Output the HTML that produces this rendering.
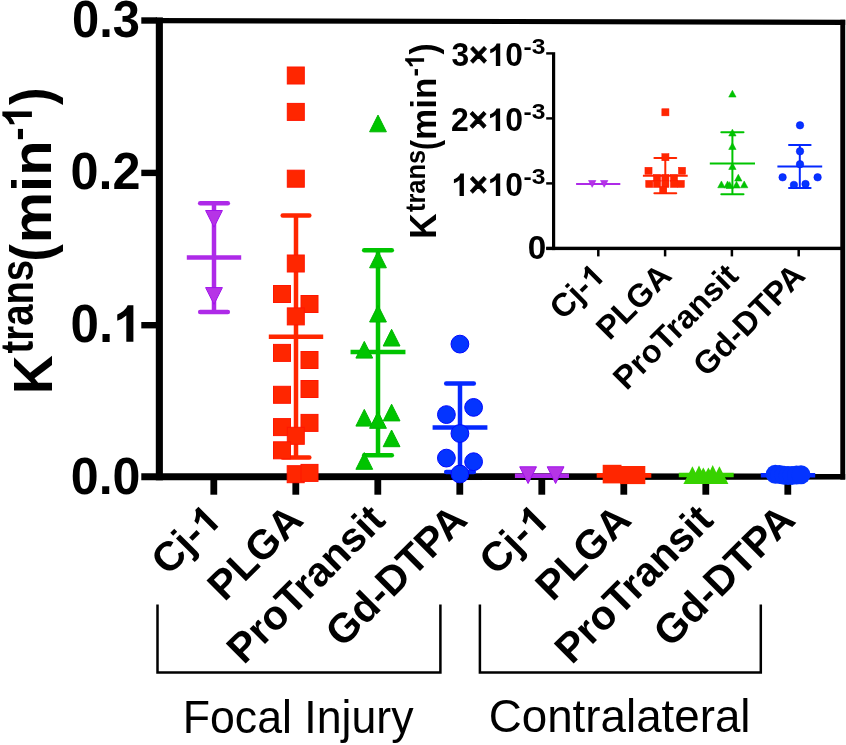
<!DOCTYPE html>
<html><head><meta charset="utf-8"><title>Ktrans</title>
<style>
html,body{margin:0;padding:0;background:#fff;}
body{width:846px;height:745px;overflow:hidden;font-family:"Liberation Sans",sans-serif;}
svg{display:block;will-change:transform;}
</style></head>
<body>
<svg width="846" height="745" viewBox="0 0 846 745">
<rect x="0" y="0" width="846" height="745" fill="#fff"/>
<line x1="156" y1="20.6" x2="845.2" y2="22.4" stroke="#000" stroke-width="5.2"/>
<rect x="155.80" y="17.40" width="7.10" height="462.90" fill="#000"/>
<rect x="840.30" y="19.80" width="4.90" height="459.80" fill="#000"/>
<polygon points="141.3,473.2 845.2,473.4 845.2,479.6 141.3,480.3" fill="#000"/>
<rect x="141.30" y="17.30" width="15.70" height="6.40" fill="#000"/>
<rect x="141.30" y="169.70" width="15.70" height="6.40" fill="#000"/>
<rect x="141.30" y="322.00" width="15.70" height="6.40" fill="#000"/>
<rect x="210.40" y="478.00" width="6.80" height="16.70" fill="#000"/>
<rect x="292.40" y="478.00" width="6.80" height="16.70" fill="#000"/>
<rect x="374.40" y="478.00" width="6.80" height="16.70" fill="#000"/>
<rect x="456.40" y="478.00" width="6.80" height="16.70" fill="#000"/>
<rect x="538.40" y="478.00" width="6.80" height="16.70" fill="#000"/>
<rect x="620.40" y="478.00" width="6.80" height="16.70" fill="#000"/>
<rect x="702.40" y="478.00" width="6.80" height="16.70" fill="#000"/>
<rect x="784.40" y="478.00" width="6.80" height="16.70" fill="#000"/>
<g transform="translate(72.04 37.25) scale(0.9460 1)" font-family="'Liberation Sans', sans-serif" font-size="51.69" font-weight="bold" fill="#000"><text x="0" y="0">0.3</text></g>
<g transform="translate(70.58 189.08) scale(0.9660 1)" font-family="'Liberation Sans', sans-serif" font-size="52.16" font-weight="bold" fill="#000"><text x="0" y="0">0.2</text></g>
<g transform="translate(70.55 341.67) scale(0.9680 1)" font-family="'Liberation Sans', sans-serif" font-size="52.86" font-weight="bold" fill="#000"><text x="0.00" y="0">0.</text><path d="M 64.92 -0.00 L 57.62 -0.00 L 57.62 -26.15 Q 53.66 -22.61 48.26 -20.89 L 48.26 -27.21 Q 51.12 -28.07 54.45 -30.55 Q 57.78 -33.03 59.00 -36.37 L 64.92 -36.37 Z" fill="#000"/></g>
<g transform="translate(70.79 494.17) scale(0.9538 1)" font-family="'Liberation Sans', sans-serif" font-size="52.58" font-weight="bold" fill="#000"><text x="0" y="0">0.0</text></g>
<line x1="214.00" y1="203.20" x2="214.00" y2="311.90" stroke="#AE2AE8" stroke-width="4.5" stroke-linecap="butt"/>
<line x1="200.20" y1="203.20" x2="227.80" y2="203.20" stroke="#AE2AE8" stroke-width="4.5" stroke-linecap="round"/>
<line x1="200.20" y1="311.90" x2="227.80" y2="311.90" stroke="#AE2AE8" stroke-width="4.5" stroke-linecap="round"/>
<line x1="186.80" y1="257.40" x2="241.20" y2="257.40" stroke="#AE2AE8" stroke-width="4.5" stroke-linecap="butt"/>
<polygon points="205.60,210.50 222.40,210.50 214.00,227.20" fill="#B634E6" stroke="#A012EC" stroke-width="1.0" stroke-linejoin="miter"/>
<polygon points="205.60,287.60 222.40,287.60 214.00,304.30" fill="#B634E6" stroke="#A012EC" stroke-width="1.0" stroke-linejoin="miter"/>
<line x1="296.00" y1="215.60" x2="296.00" y2="457.40" stroke="#FF2600" stroke-width="4.5" stroke-linecap="butt"/>
<line x1="282.70" y1="215.60" x2="309.30" y2="215.60" stroke="#FF2600" stroke-width="4.5" stroke-linecap="round"/>
<line x1="282.70" y1="457.40" x2="309.30" y2="457.40" stroke="#FF2600" stroke-width="4.5" stroke-linecap="round"/>
<line x1="268.80" y1="336.80" x2="323.20" y2="336.80" stroke="#FF2600" stroke-width="4.5" stroke-linecap="butt"/>
<rect x="287.30" y="67.00" width="17.00" height="17.00" fill="#FF2600" stroke="#FF1600" stroke-width="1.0"/>
<rect x="287.30" y="103.40" width="17.00" height="17.00" fill="#FF2600" stroke="#FF1600" stroke-width="1.0"/>
<rect x="287.30" y="170.20" width="17.00" height="17.00" fill="#FF2600" stroke="#FF1600" stroke-width="1.0"/>
<rect x="287.30" y="255.00" width="17.00" height="17.00" fill="#FF2600" stroke="#FF1600" stroke-width="1.0"/>
<rect x="273.50" y="285.50" width="17.00" height="17.00" fill="#FF2600" stroke="#FF1600" stroke-width="1.0"/>
<rect x="301.00" y="295.50" width="17.00" height="17.00" fill="#FF2600" stroke="#FF1600" stroke-width="1.0"/>
<rect x="287.30" y="307.90" width="17.00" height="17.00" fill="#FF2600" stroke="#FF1600" stroke-width="1.0"/>
<rect x="273.50" y="344.40" width="17.00" height="17.00" fill="#FF2600" stroke="#FF1600" stroke-width="1.0"/>
<rect x="301.00" y="351.50" width="17.00" height="17.00" fill="#FF2600" stroke="#FF1600" stroke-width="1.0"/>
<rect x="301.00" y="380.50" width="17.00" height="17.00" fill="#FF2600" stroke="#FF1600" stroke-width="1.0"/>
<rect x="273.50" y="386.30" width="17.00" height="17.00" fill="#FF2600" stroke="#FF1600" stroke-width="1.0"/>
<rect x="301.00" y="414.40" width="17.00" height="17.00" fill="#FF2600" stroke="#FF1600" stroke-width="1.0"/>
<rect x="273.50" y="418.60" width="17.00" height="17.00" fill="#FF2600" stroke="#FF1600" stroke-width="1.0"/>
<rect x="287.30" y="427.30" width="17.00" height="17.00" fill="#FF2600" stroke="#FF1600" stroke-width="1.0"/>
<rect x="273.50" y="441.80" width="17.00" height="17.00" fill="#FF2600" stroke="#FF1600" stroke-width="1.0"/>
<rect x="287.20" y="465.70" width="17.00" height="17.00" fill="#FF2600" stroke="#FF1600" stroke-width="1.0"/>
<rect x="301.00" y="464.40" width="17.00" height="17.00" fill="#FF2600" stroke="#FF1600" stroke-width="1.0"/>
<line x1="378.00" y1="250.20" x2="378.00" y2="455.20" stroke="#00C400" stroke-width="4.5" stroke-linecap="butt"/>
<line x1="364.20" y1="250.20" x2="391.80" y2="250.20" stroke="#00C400" stroke-width="4.5" stroke-linecap="round"/>
<line x1="364.20" y1="455.20" x2="391.80" y2="455.20" stroke="#00C400" stroke-width="4.5" stroke-linecap="round"/>
<line x1="350.55" y1="351.90" x2="405.45" y2="351.90" stroke="#00C400" stroke-width="4.5" stroke-linecap="butt"/>
<polygon points="369.60,131.80 386.40,131.80 378.00,115.10" fill="#00C400" stroke="#00B600" stroke-width="1.0" stroke-linejoin="miter"/>
<polygon points="369.60,267.80 386.40,267.80 378.00,251.10" fill="#00C400" stroke="#00B600" stroke-width="1.0" stroke-linejoin="miter"/>
<polygon points="369.60,322.00 386.40,322.00 378.00,305.30" fill="#00C400" stroke="#00B600" stroke-width="1.0" stroke-linejoin="miter"/>
<polygon points="383.20,346.00 400.00,346.00 391.60,329.30" fill="#00C400" stroke="#00B600" stroke-width="1.0" stroke-linejoin="miter"/>
<polygon points="355.90,358.10 372.70,358.10 364.30,341.40" fill="#00C400" stroke="#00B600" stroke-width="1.0" stroke-linejoin="miter"/>
<polygon points="355.90,426.10 372.70,426.10 364.30,409.40" fill="#00C400" stroke="#00B600" stroke-width="1.0" stroke-linejoin="miter"/>
<polygon points="383.20,420.90 400.00,420.90 391.60,404.20" fill="#00C400" stroke="#00B600" stroke-width="1.0" stroke-linejoin="miter"/>
<polygon points="369.60,428.30 386.40,428.30 378.00,411.60" fill="#00C400" stroke="#00B600" stroke-width="1.0" stroke-linejoin="miter"/>
<polygon points="383.20,446.70 400.00,446.70 391.60,430.00" fill="#00C400" stroke="#00B600" stroke-width="1.0" stroke-linejoin="miter"/>
<polygon points="355.90,469.30 372.70,469.30 364.30,452.60" fill="#00C400" stroke="#00B600" stroke-width="1.0" stroke-linejoin="miter"/>
<line x1="460.00" y1="383.50" x2="460.00" y2="472.00" stroke="#0428FF" stroke-width="4.5" stroke-linecap="butt"/>
<line x1="446.20" y1="383.50" x2="473.80" y2="383.50" stroke="#0428FF" stroke-width="4.5" stroke-linecap="round"/>
<line x1="446.20" y1="472.00" x2="473.80" y2="472.00" stroke="#0428FF" stroke-width="4.5" stroke-linecap="round"/>
<line x1="432.60" y1="427.40" x2="487.40" y2="427.40" stroke="#0428FF" stroke-width="4.5" stroke-linecap="butt"/>
<circle cx="459.90" cy="344.10" r="8.90" fill="#0434FF" stroke="#0008FF" stroke-width="1.0"/>
<circle cx="473.60" cy="407.40" r="8.90" fill="#0434FF" stroke="#0008FF" stroke-width="1.0"/>
<circle cx="446.40" cy="414.60" r="8.90" fill="#0434FF" stroke="#0008FF" stroke-width="1.0"/>
<circle cx="459.90" cy="433.50" r="8.90" fill="#0434FF" stroke="#0008FF" stroke-width="1.0"/>
<circle cx="446.40" cy="458.10" r="8.90" fill="#0434FF" stroke="#0008FF" stroke-width="1.0"/>
<circle cx="473.60" cy="461.70" r="8.90" fill="#0434FF" stroke="#0008FF" stroke-width="1.0"/>
<circle cx="459.90" cy="474.00" r="8.90" fill="#0434FF" stroke="#0008FF" stroke-width="1.0"/>
<line x1="514.90" y1="475.80" x2="569.00" y2="475.80" stroke="#AE2AE8" stroke-width="4.6" stroke-linecap="butt"/>
<polygon points="519.70,466.80 536.50,466.80 528.10,483.50" fill="#B634E6" stroke="#A012EC" stroke-width="1.0" stroke-linejoin="miter"/>
<polygon points="547.20,466.80 564.00,466.80 555.60,483.50" fill="#B634E6" stroke="#A012EC" stroke-width="1.0" stroke-linejoin="miter"/>
<line x1="596.70" y1="475.40" x2="651.30" y2="475.40" stroke="#FF2600" stroke-width="4.6" stroke-linecap="butt"/>
<rect x="602.70" y="464.80" width="18.80" height="18.60" fill="#FF2600"/>
<rect x="620.00" y="466.00" width="25.30" height="18.10" fill="#FF2600"/>
<line x1="678.80" y1="475.00" x2="733.70" y2="475.00" stroke="#37D200" stroke-width="4.6" stroke-linecap="butt"/>
<polygon points="683.40,484.1 701.40,484.1 692.40,466.30" fill="#37D200"/>
<polygon points="690.00,484.1 708.00,484.1 699.00,465.40" fill="#37D200"/>
<polygon points="694.30,484.1 712.30,484.1 703.30,467.40" fill="#37D200"/>
<polygon points="699.40,484.1 717.40,484.1 708.40,467.40" fill="#37D200"/>
<polygon points="703.70,484.1 721.70,484.1 712.70,465.10" fill="#37D200"/>
<polygon points="710.40,484.1 728.40,484.1 719.40,466.30" fill="#37D200"/>
<line x1="760.80" y1="475.30" x2="815.20" y2="475.30" stroke="#0428FF" stroke-width="4.6" stroke-linecap="butt"/>
<circle cx="775.30" cy="474.30" r="9.49" fill="#0434FF" stroke="#0434FF" stroke-width="0.01"/>
<circle cx="779.50" cy="474.60" r="9.49" fill="#0434FF" stroke="#0434FF" stroke-width="0.01"/>
<circle cx="784.00" cy="475.20" r="9.49" fill="#0434FF" stroke="#0434FF" stroke-width="0.01"/>
<circle cx="788.00" cy="475.60" r="9.49" fill="#0434FF" stroke="#0434FF" stroke-width="0.01"/>
<circle cx="792.00" cy="475.40" r="9.49" fill="#0434FF" stroke="#0434FF" stroke-width="0.01"/>
<circle cx="796.50" cy="475.00" r="9.49" fill="#0434FF" stroke="#0434FF" stroke-width="0.01"/>
<circle cx="801.00" cy="474.80" r="9.49" fill="#0434FF" stroke="#0434FF" stroke-width="0.01"/>
<g transform="translate(223.10 522.00) rotate(-45) translate(-77.46 0)" font-family="'Liberation Sans', sans-serif" font-size="41.00" font-weight="bold" fill="#000"><text x="0.00" y="0">Cj-</text><path d="M 70.81 -0.00 L 65.15 -0.00 L 65.15 -20.28 Q 62.08 -17.54 57.89 -16.20 L 57.89 -21.11 Q 60.11 -21.77 62.69 -23.70 Q 65.27 -25.62 66.22 -28.21 L 70.81 -28.21 Z" fill="#000"/></g>
<g transform="translate(305.10 522.00) rotate(-45) translate(-113.89 0)" font-family="'Liberation Sans', sans-serif" font-size="41.00" font-weight="bold" fill="#000"><text x="0" y="0">PLGA</text></g>
<g transform="translate(387.10 522.00) rotate(-45) translate(-202.79 0)" font-family="'Liberation Sans', sans-serif" font-size="41.00" font-weight="bold" fill="#000"><text x="0" y="0">ProTransit</text></g>
<g transform="translate(469.10 522.00) rotate(-45) translate(-179.16 0)" font-family="'Liberation Sans', sans-serif" font-size="41.00" font-weight="bold" fill="#000"><text x="0" y="0">Gd-DTPA</text></g>
<g transform="translate(551.10 522.00) rotate(-45) translate(-77.46 0)" font-family="'Liberation Sans', sans-serif" font-size="41.00" font-weight="bold" fill="#000"><text x="0.00" y="0">Cj-</text><path d="M 70.81 -0.00 L 65.15 -0.00 L 65.15 -20.28 Q 62.08 -17.54 57.89 -16.20 L 57.89 -21.11 Q 60.11 -21.77 62.69 -23.70 Q 65.27 -25.62 66.22 -28.21 L 70.81 -28.21 Z" fill="#000"/></g>
<g transform="translate(633.10 522.00) rotate(-45) translate(-113.89 0)" font-family="'Liberation Sans', sans-serif" font-size="41.00" font-weight="bold" fill="#000"><text x="0" y="0">PLGA</text></g>
<g transform="translate(715.10 522.00) rotate(-45) translate(-202.79 0)" font-family="'Liberation Sans', sans-serif" font-size="41.00" font-weight="bold" fill="#000"><text x="0" y="0">ProTransit</text></g>
<g transform="translate(797.10 522.00) rotate(-45) translate(-179.16 0)" font-family="'Liberation Sans', sans-serif" font-size="41.00" font-weight="bold" fill="#000"><text x="0" y="0">Gd-DTPA</text></g>
<g transform="translate(51.40 390.50) rotate(-90) translate(-3.61 0.20) scale(0.9502 1)" font-family="'Liberation Sans', sans-serif" font-size="56.29" font-weight="bold" fill="#000"><text x="0" y="0">K</text></g>
<g transform="translate(51.40 390.50) rotate(-90) translate(37.02 -18.55) scale(0.8418 1)" font-family="'Liberation Sans', sans-serif" font-size="45.43" font-weight="bold" fill="#000"><text x="0" y="0">trans</text></g>
<g transform="translate(51.40 390.50) rotate(-90) translate(128.99 0.01) scale(0.9021 1)" font-family="'Liberation Sans', sans-serif" font-size="57.80" font-weight="bold" fill="#000"><text x="0" y="0">(</text></g>
<g transform="translate(51.40 390.50) rotate(-90) translate(147.24 -0.40) scale(1.0449 1)" font-family="'Liberation Sans', sans-serif" font-size="55.31" font-weight="bold" fill="#000"><text x="0" y="0">min</text></g>
<g transform="translate(51.40 390.50) rotate(-90) translate(249.68 -19.50) scale(0.9428 1)" font-family="'Liberation Sans', sans-serif" font-size="42.91" font-weight="bold" fill="#000"><text x="0.00" y="0">-</text><path d="M 31.20 -0.00 L 25.27 -0.00 L 25.27 -21.23 Q 22.06 -18.35 17.68 -16.96 L 17.68 -22.09 Q 20.00 -22.79 22.70 -24.80 Q 25.40 -26.81 26.39 -29.52 L 31.20 -29.52 Z" fill="#000"/></g>
<g transform="translate(51.40 390.50) rotate(-90) translate(285.47 -0.12) scale(0.9066 1)" font-family="'Liberation Sans', sans-serif" font-size="57.91" font-weight="bold" fill="#000"><text x="0" y="0">)</text></g>
<polyline points="157.50,604.50 157.50,672.40 440.40,672.40 440.40,604.50" fill="none" stroke="#000" stroke-width="2.5" stroke-linejoin="miter"/>
<polyline points="479.90,604.50 479.90,672.40 760.80,672.40 760.80,604.50" fill="none" stroke="#000" stroke-width="2.5" stroke-linejoin="miter"/>
<g transform="translate(182.71 732.57) scale(0.9827 1)" font-family="'Liberation Sans', sans-serif" font-size="45.47" font-weight="normal" fill="#000"><text x="0" y="0">Focal Injury</text></g>
<g transform="translate(488.71 732.45) scale(1.0096 1)" font-family="'Liberation Sans', sans-serif" font-size="45.31" font-weight="normal" fill="#000"><text x="0" y="0">Contralateral</text></g>
<rect x="552.00" y="52.20" width="3.20" height="197.90" fill="#000"/>
<rect x="546.20" y="246.70" width="294.80" height="3.40" fill="#000"/>
<rect x="546.20" y="247.20" width="6.00" height="2.40" fill="#000"/>
<rect x="546.20" y="182.20" width="6.00" height="2.40" fill="#000"/>
<rect x="546.20" y="117.20" width="6.00" height="2.40" fill="#000"/>
<rect x="546.20" y="52.20" width="6.00" height="2.40" fill="#000"/>
<rect x="597.05" y="249.00" width="2.50" height="7.40" fill="#000"/>
<rect x="663.85" y="249.00" width="2.50" height="7.40" fill="#000"/>
<rect x="730.65" y="249.00" width="2.50" height="7.40" fill="#000"/>
<rect x="797.45" y="249.00" width="2.50" height="7.40" fill="#000"/>
<g transform="translate(451.39 196.07) scale(0.9747 1)" font-family="'Liberation Sans', sans-serif" font-size="32.65" font-weight="bold" fill="#000"><path d="M 12.86 -0.00 L 8.36 -0.00 L 8.36 -16.15 Q 5.91 -13.97 2.58 -12.90 L 2.58 -16.81 Q 4.34 -17.34 6.40 -18.87 Q 8.46 -20.40 9.21 -22.46 L 12.86 -22.46 Z" fill="#000"/><text x="18.15" y="0"><tspan stroke="#000" stroke-width="0.8" stroke-linejoin="miter">×</tspan></text><path d="M 50.08 -0.00 L 45.58 -0.00 L 45.58 -16.15 Q 43.13 -13.97 39.80 -12.90 L 39.80 -16.81 Q 41.56 -17.34 43.62 -18.87 Q 45.68 -20.40 46.43 -22.46 L 50.08 -22.46 Z" fill="#000"/><text x="55.37" y="0">0</text></g>
<g transform="translate(523.62 183.73) scale(1.1203 1)" font-family="'Liberation Sans', sans-serif" font-size="21.97" font-weight="bold" fill="#000"><text x="0" y="0">-3</text></g>
<g transform="translate(451.08 131.07) scale(0.9790 1)" font-family="'Liberation Sans', sans-serif" font-size="32.65" font-weight="bold" fill="#000"><text x="0.00" y="0">2<tspan stroke="#000" stroke-width="0.8" stroke-linejoin="miter">×</tspan></text><path d="M 50.09 -0.00 L 45.58 -0.00 L 45.58 -16.15 Q 43.14 -13.97 39.81 -12.90 L 39.81 -16.81 Q 41.57 -17.34 43.63 -18.87 Q 45.68 -20.40 46.43 -22.46 L 50.09 -22.46 Z" fill="#000"/><text x="55.38" y="0">0</text></g>
<g transform="translate(523.62 118.73) scale(1.1203 1)" font-family="'Liberation Sans', sans-serif" font-size="21.97" font-weight="bold" fill="#000"><text x="0" y="0">-3</text></g>
<g transform="translate(451.48 65.99) scale(0.9768 1)" font-family="'Liberation Sans', sans-serif" font-size="32.54" font-weight="bold" fill="#000"><text x="0.00" y="0">3<tspan stroke="#000" stroke-width="0.8" stroke-linejoin="miter">×</tspan></text><path d="M 49.91 -0.00 L 45.42 -0.00 L 45.42 -16.10 Q 42.98 -13.92 39.67 -12.86 L 39.67 -16.75 Q 41.42 -17.28 43.47 -18.80 Q 45.52 -20.33 46.27 -22.38 L 49.91 -22.38 Z" fill="#000"/><text x="55.18" y="0">0</text></g>
<g transform="translate(523.62 53.73) scale(1.1203 1)" font-family="'Liberation Sans', sans-serif" font-size="21.97" font-weight="bold" fill="#000"><text x="0" y="0">-3</text></g>
<g transform="translate(527.67 259.47) scale(1.0100 1)" font-family="'Liberation Sans', sans-serif" font-size="32.93" font-weight="bold" fill="#000"><text x="0" y="0">0</text></g>
<g transform="translate(436.20 236.50) rotate(-90) translate(-2.40 0.10) scale(0.9572 1)" font-family="'Liberation Sans', sans-serif" font-size="37.09" font-weight="bold" fill="#000"><text x="0" y="0">K</text></g>
<g transform="translate(436.20 236.50) rotate(-90) translate(24.48 -11.68) scale(0.8970 1)" font-family="'Liberation Sans', sans-serif" font-size="28.38" font-weight="bold" fill="#000"><text x="0" y="0">trans</text></g>
<g transform="translate(436.20 236.50) rotate(-90) translate(86.40 0.30) scale(0.8301 1)" font-family="'Liberation Sans', sans-serif" font-size="36.14" font-weight="bold" fill="#000"><text x="0" y="0">(</text></g>
<g transform="translate(436.20 236.50) rotate(-90) translate(96.51 -0.10) scale(1.0075 1)" font-family="'Liberation Sans', sans-serif" font-size="34.90" font-weight="bold" fill="#000"><text x="0" y="0">min</text></g>
<g transform="translate(436.20 236.50) rotate(-90) translate(159.89 -12.10) scale(0.9211 1)" font-family="'Liberation Sans', sans-serif" font-size="27.49" font-weight="bold" fill="#000"><text x="0.00" y="0">-</text><path d="M 19.99 -0.00 L 16.19 -0.00 L 16.19 -13.60 Q 14.13 -11.76 11.33 -10.86 L 11.33 -14.15 Q 12.81 -14.60 14.54 -15.89 Q 16.27 -17.18 16.91 -18.91 L 19.99 -18.91 Z" fill="#000"/></g>
<g transform="translate(436.20 236.50) rotate(-90) translate(181.92 0.23) scale(0.9110 1)" font-family="'Liberation Sans', sans-serif" font-size="36.46" font-weight="bold" fill="#000"><text x="0" y="0">)</text></g>
<line x1="576.10" y1="183.90" x2="620.30" y2="183.90" stroke="#AE2AE8" stroke-width="2.0" stroke-linecap="butt"/>
<polygon points="588.50,180.50 595.90,180.50 592.20,187.35" fill="#B634E6" stroke="#A012EC" stroke-width="0.5" stroke-linejoin="miter"/>
<polygon points="600.50,180.50 607.90,180.50 604.20,187.35" fill="#B634E6" stroke="#A012EC" stroke-width="0.5" stroke-linejoin="miter"/>
<line x1="665.30" y1="157.90" x2="665.30" y2="193.30" stroke="#FF2600" stroke-width="2.0" stroke-linecap="butt"/>
<line x1="654.35" y1="157.90" x2="676.25" y2="157.90" stroke="#FF2600" stroke-width="2.0" stroke-linecap="round"/>
<line x1="654.35" y1="193.30" x2="676.25" y2="193.30" stroke="#FF2600" stroke-width="2.0" stroke-linecap="round"/>
<line x1="642.90" y1="175.80" x2="687.70" y2="175.80" stroke="#FF2600" stroke-width="2.0" stroke-linecap="butt"/>
<rect x="661.85" y="108.75" width="7.10" height="7.10" fill="#FF2600" stroke="#FF1600" stroke-width="0.5"/>
<rect x="661.85" y="153.65" width="7.10" height="7.10" fill="#FF2600" stroke="#FF1600" stroke-width="0.5"/>
<rect x="644.95" y="167.25" width="7.10" height="7.10" fill="#FF2600" stroke="#FF1600" stroke-width="0.5"/>
<rect x="678.45" y="167.25" width="7.10" height="7.10" fill="#FF2600" stroke="#FF1600" stroke-width="0.5"/>
<rect x="653.45" y="174.45" width="7.10" height="7.10" fill="#FF2600" stroke="#FF1600" stroke-width="0.5"/>
<rect x="661.85" y="174.45" width="7.10" height="7.10" fill="#FF2600" stroke="#FF1600" stroke-width="0.5"/>
<rect x="670.45" y="174.45" width="7.10" height="7.10" fill="#FF2600" stroke="#FF1600" stroke-width="0.5"/>
<rect x="645.75" y="180.35" width="7.10" height="7.10" fill="#FF2600" stroke="#FF1600" stroke-width="0.5"/>
<rect x="653.45" y="180.35" width="7.10" height="7.10" fill="#FF2600" stroke="#FF1600" stroke-width="0.5"/>
<rect x="661.85" y="180.35" width="7.10" height="7.10" fill="#FF2600" stroke="#FF1600" stroke-width="0.5"/>
<rect x="670.45" y="180.35" width="7.10" height="7.10" fill="#FF2600" stroke="#FF1600" stroke-width="0.5"/>
<rect x="677.25" y="180.35" width="7.10" height="7.10" fill="#FF2600" stroke="#FF1600" stroke-width="0.5"/>
<rect x="659.65" y="186.45" width="7.10" height="7.10" fill="#FF2600" stroke="#FF1600" stroke-width="0.5"/>
<line x1="732.40" y1="132.20" x2="732.40" y2="194.30" stroke="#00C400" stroke-width="2.0" stroke-linecap="butt"/>
<line x1="721.30" y1="132.20" x2="743.50" y2="132.20" stroke="#00C400" stroke-width="2.0" stroke-linecap="round"/>
<line x1="721.30" y1="194.30" x2="743.50" y2="194.30" stroke="#00C400" stroke-width="2.0" stroke-linecap="round"/>
<line x1="709.80" y1="163.40" x2="755.00" y2="163.40" stroke="#00C400" stroke-width="2.0" stroke-linecap="butt"/>
<polygon points="728.70,97.10 736.10,97.10 732.40,90.25" fill="#00C400" stroke="#00B600" stroke-width="0.5" stroke-linejoin="miter"/>
<polygon points="728.70,136.00 736.10,136.00 732.40,129.15" fill="#00C400" stroke="#00B600" stroke-width="0.5" stroke-linejoin="miter"/>
<polygon points="728.70,149.50 736.10,149.50 732.40,142.65" fill="#00C400" stroke="#00B600" stroke-width="0.5" stroke-linejoin="miter"/>
<polygon points="728.70,169.50 736.10,169.50 732.40,162.65" fill="#00C400" stroke="#00B600" stroke-width="0.5" stroke-linejoin="miter"/>
<polygon points="734.60,181.10 742.00,181.10 738.30,174.25" fill="#00C400" stroke="#00B600" stroke-width="0.5" stroke-linejoin="miter"/>
<polygon points="717.70,187.80 725.10,187.80 721.40,180.95" fill="#00C400" stroke="#00B600" stroke-width="0.5" stroke-linejoin="miter"/>
<polygon points="723.90,187.80 731.30,187.80 727.60,180.95" fill="#00C400" stroke="#00B600" stroke-width="0.5" stroke-linejoin="miter"/>
<polygon points="726.00,188.50 733.40,188.50 729.70,181.65" fill="#00C400" stroke="#00B600" stroke-width="0.5" stroke-linejoin="miter"/>
<polygon points="732.80,188.10 740.20,188.10 736.50,181.25" fill="#00C400" stroke="#00B600" stroke-width="0.5" stroke-linejoin="miter"/>
<polygon points="740.50,187.80 747.90,187.80 744.20,180.95" fill="#00C400" stroke="#00B600" stroke-width="0.5" stroke-linejoin="miter"/>
<line x1="799.80" y1="144.90" x2="799.80" y2="188.10" stroke="#0428FF" stroke-width="2.0" stroke-linecap="butt"/>
<line x1="789.00" y1="144.90" x2="810.60" y2="144.90" stroke="#0428FF" stroke-width="2.0" stroke-linecap="round"/>
<line x1="789.00" y1="188.10" x2="810.60" y2="188.10" stroke="#0428FF" stroke-width="2.0" stroke-linecap="round"/>
<line x1="777.40" y1="166.60" x2="822.20" y2="166.60" stroke="#0428FF" stroke-width="2.0" stroke-linecap="butt"/>
<circle cx="800.00" cy="125.30" r="3.75" fill="#0434FF" stroke="#0008FF" stroke-width="0.5"/>
<circle cx="800.00" cy="151.30" r="3.75" fill="#0434FF" stroke="#0008FF" stroke-width="0.5"/>
<circle cx="800.00" cy="164.20" r="3.75" fill="#0434FF" stroke="#0008FF" stroke-width="0.5"/>
<circle cx="782.60" cy="177.30" r="3.75" fill="#0434FF" stroke="#0008FF" stroke-width="0.5"/>
<circle cx="817.60" cy="177.30" r="3.75" fill="#0434FF" stroke="#0008FF" stroke-width="0.5"/>
<circle cx="793.90" cy="184.90" r="3.75" fill="#0434FF" stroke="#0008FF" stroke-width="0.5"/>
<circle cx="805.50" cy="184.00" r="3.75" fill="#0434FF" stroke="#0008FF" stroke-width="0.5"/>
<g transform="translate(606.50 277.50) rotate(-45) translate(-61.40 0)" font-family="'Liberation Sans', sans-serif" font-size="32.50" font-weight="bold" fill="#000"><text x="0.00" y="0">Cj-</text><path d="M 56.13 -0.00 L 51.64 -0.00 L 51.64 -16.08 Q 49.21 -13.90 45.89 -12.84 L 45.89 -16.73 Q 47.65 -17.26 49.69 -18.78 Q 51.74 -20.31 52.49 -22.36 L 56.13 -22.36 Z" fill="#000"/></g>
<g transform="translate(673.30 277.50) rotate(-45) translate(-90.28 0)" font-family="'Liberation Sans', sans-serif" font-size="32.50" font-weight="bold" fill="#000"><text x="0" y="0">PLGA</text></g>
<g transform="translate(740.10 277.50) rotate(-45) translate(-160.74 0)" font-family="'Liberation Sans', sans-serif" font-size="32.50" font-weight="bold" fill="#000"><text x="0" y="0">ProTransit</text></g>
<g transform="translate(806.90 277.50) rotate(-45) translate(-142.02 0)" font-family="'Liberation Sans', sans-serif" font-size="32.50" font-weight="bold" fill="#000"><text x="0" y="0">Gd-DTPA</text></g>
</svg>
</body></html>
